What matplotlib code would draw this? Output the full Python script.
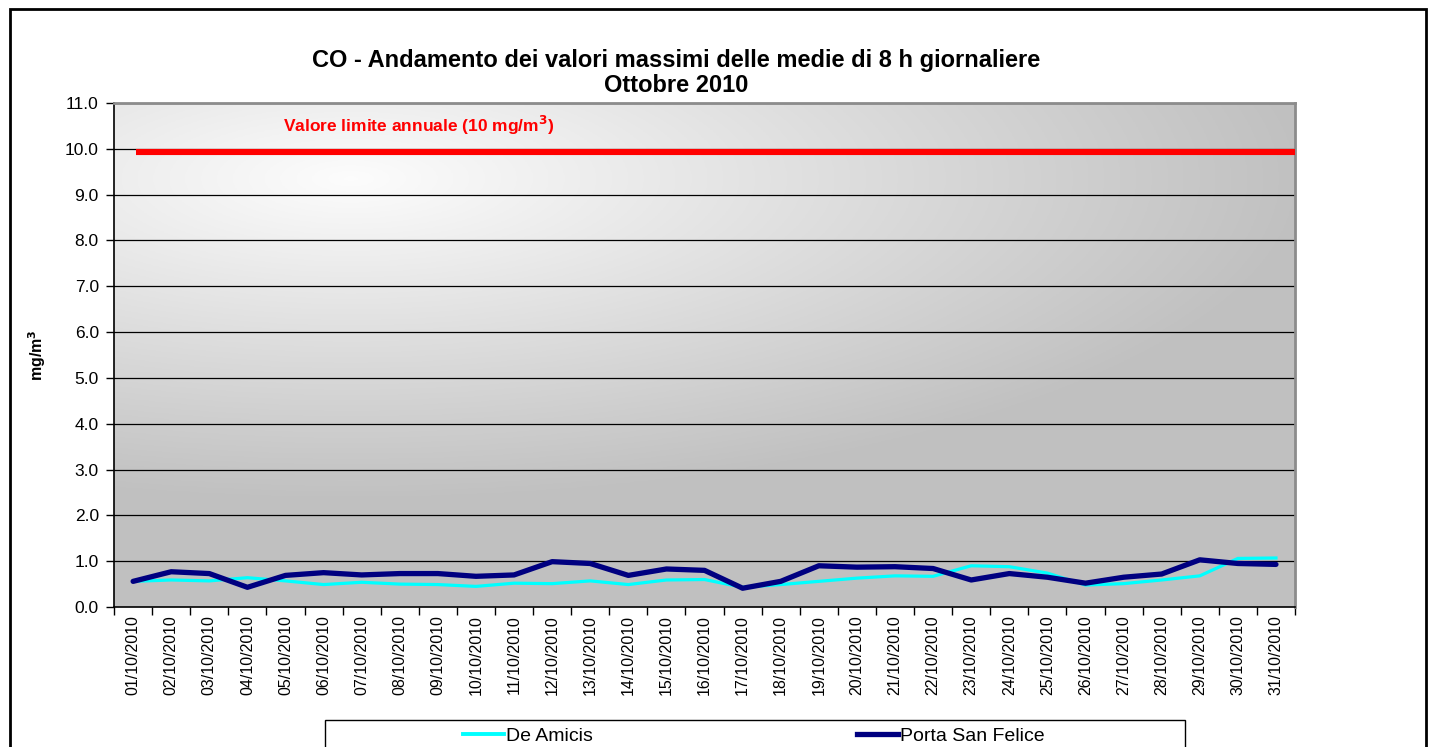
import numpy as np
import matplotlib
matplotlib.use("Agg")
import matplotlib.pyplot as plt
from matplotlib.patches import Rectangle
from matplotlib.lines import Line2D

plt.rcParams['font.family'] = ['Liberation Sans', 'DejaVu Sans']

# data (mg/m3)
days = [f"{d:02d}/10/2010" for d in range(1, 32)]
de_amicis = [0.56, 0.59, 0.57, 0.64, 0.57, 0.49, 0.54, 0.50, 0.49, 0.45,
             0.52, 0.51, 0.57, 0.49, 0.59, 0.60, 0.43, 0.49, 0.56, 0.63,
             0.68, 0.67, 0.90, 0.88, 0.74, 0.48, 0.51, 0.59, 0.68, 1.06, 1.07]
porta_san_felice = [0.56, 0.77, 0.73, 0.43, 0.69, 0.75, 0.70, 0.73, 0.73, 0.67,
                    0.70, 0.99, 0.95, 0.69, 0.83, 0.80, 0.41, 0.56, 0.90, 0.87,
                    0.88, 0.84, 0.59, 0.73, 0.65, 0.52, 0.65, 0.72, 1.03, 0.95, 0.93]
limit_value = 9.93  # drawn just under the 10.0 gridline in the original
y_ticks = np.arange(0, 11.5, 1.0)

fig = plt.figure(figsize=(14.33, 7.47), dpi=100)
ax = fig.add_axes([0.0796, 0.1874, 0.9037 - 0.0796, 0.8621 - 0.1874])

x = np.arange(len(days))
ax.set_xlim(-0.5, len(days) - 0.5)
ax.set_ylim(0, 11)

# gradient background of the plot area
gx, gy = np.meshgrid(np.linspace(0, 1, 400), np.linspace(0, 1, 200))
d = np.sqrt(((gx - 0.2) / 0.95) ** 2 + ((gy - 0.85) / 0.75) ** 2)
t = np.clip(d / 0.85, 0, 1)
shade = 0.99 - t * (0.99 - 0.755)
ax.imshow(np.dstack([shade, shade, shade]), extent=[0, 1, 0, 1], origin='lower',
          transform=ax.transAxes, aspect='auto', zorder=0)

for v in y_ticks[1:]:
    ax.axhline(v, color='black', lw=0.9, zorder=1)

ax.plot([0.08, len(days) - 0.5], [limit_value, limit_value], color='#ff0000', lw=4.4,
        solid_capstyle='butt', zorder=3)
ax.text(0.143, 0.956, 'Valore limite annuale (10 mg/m$^\\mathbf{3}$)', transform=ax.transAxes,
        color='#ff0000', fontsize=12.5, fontweight='bold', va='center')

ax.plot(x, de_amicis, color='#00ffff', lw=2.3, zorder=4, solid_joinstyle='miter')
ax.plot(x, porta_san_felice, color='#000080', lw=3.8, zorder=5, solid_joinstyle='round',
        solid_capstyle='round')

ax.set_yticks(y_ticks)
ax.set_yticklabels([f"{v:.1f}" for v in y_ticks], fontsize=12.5)
ax.set_xticks(x)
ax.set_xticklabels(days, rotation=90, fontsize=11.5)
ax.set_xticks(np.arange(-0.5, len(days), 1.0), minor=True)
ax.tick_params(axis='x', which='major', length=0, pad=6)
ax.tick_params(axis='x', which='minor', length=6, width=1, direction='out')
ax.tick_params(axis='y', length=6, width=1, direction='out', pad=5)

ax.set_ylabel('mg/m$^\\mathbf{3}$', fontsize=11.5, fontweight='bold')
ax.yaxis.set_label_coords(-0.056, 0.5)

for s in ['left', 'bottom']:
    ax.spines[s].set_color('black')
    ax.spines[s].set_linewidth(1.2)
for s in ['top', 'right']:
    ax.spines[s].set_color('#8c8c8c')
    ax.spines[s].set_linewidth(2)

fig.text(0.472, 0.919, 'CO - Andamento dei valori massimi delle medie di 8 h giornaliere',
         ha='center', va='center', fontsize=17, fontweight='bold')
fig.text(0.472, 0.886, 'Ottobre 2010', ha='center', va='center', fontsize=17, fontweight='bold')

# outer chart frame
fig.add_artist(Rectangle((10 / 1433, -0.05), 1416 / 1433, 1 - 9 / 747 + 0.05,
                         transform=fig.transFigure, fill=False, lw=2, ec='black', clip_on=False))
# legend frame (cut by figure edge)
fig.add_artist(Rectangle((325 / 1433, -0.05), 860 / 1433, 1 - 720 / 747 + 0.05,
                         transform=fig.transFigure, fill=False, lw=1, ec='black', clip_on=False))
handles = [Line2D([], [], color='#00ffff', lw=2.8),
           Line2D([], [], color='#000080', lw=3.8)]
fig.legend(handles, ['De Amicis', 'Porta San Felice'], loc='center',
           bbox_to_anchor=(0.526, 0.0147), ncol=2, frameon=False, fontsize=14,
           handlelength=2.1, handletextpad=0.1, columnspacing=13.6,
           borderpad=0, borderaxespad=0)

fig.savefig('out.png', dpi=100, facecolor='white')
